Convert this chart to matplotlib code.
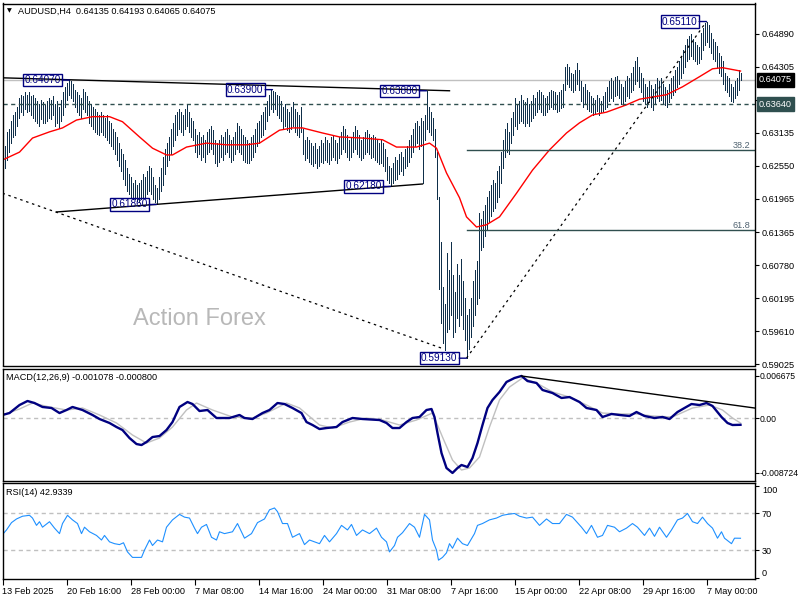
import matplotlib
matplotlib.use('Agg')
import matplotlib.pyplot as plt
import numpy as np

plt.rcParams['font.family'] = ['Liberation Sans', 'DejaVu Sans']
FS = 6.6

# H4 bars, high / low in pips (6300 -> 0.6300)
HI = [6300, 6290, 6315, 6320, 6335, 6345, 6350, 6360, 6375, 6380,
      6378, 6385, 6380, 6385, 6378, 6380, 6375, 6370, 6365, 6372,
      6368, 6362, 6370, 6375, 6372, 6378, 6365, 6370, 6360, 6372,
      6385, 6395, 6402, 6407, 6405, 6400, 6390, 6385, 6380, 6375,
      6392, 6385, 6378, 6370, 6365, 6360, 6355, 6350, 6345, 6350,
      6345, 6340, 6345, 6335, 6330, 6320, 6315, 6305, 6295, 6285,
      6275, 6265, 6250, 6240, 6235, 6225, 6230, 6220, 6225, 6230,
      6240, 6235, 6245, 6255, 6250, 6235, 6220, 6215, 6235, 6250,
      6270, 6285, 6295, 6305, 6320, 6330, 6345, 6350, 6355, 6350,
      6345, 6355, 6364, 6350, 6340, 6335, 6320, 6310, 6315, 6305,
      6310, 6300, 6315, 6320, 6325, 6318, 6300, 6295, 6300, 6310,
      6305, 6315, 6320, 6310, 6300, 6305, 6315, 6330, 6325, 6320,
      6310, 6305, 6300, 6295, 6305, 6310, 6320, 6330, 6335, 6345,
      6350, 6360, 6370, 6380, 6390, 6388, 6385, 6380, 6378, 6370,
      6360, 6365, 6355, 6350, 6360, 6368, 6355, 6350, 6345, 6360,
      6320, 6300, 6305, 6300, 6295, 6290, 6295, 6285, 6290, 6300,
      6295, 6305, 6300, 6295, 6305, 6310, 6300, 6295, 6305, 6315,
      6325, 6320, 6310, 6300, 6305, 6315, 6325, 6318, 6310, 6300,
      6305, 6315, 6318, 6312, 6305, 6310, 6305, 6300, 6295, 6300,
      6295, 6285, 6270, 6255, 6250, 6260, 6270, 6265, 6275, 6280,
      6270, 6285, 6290, 6300, 6310, 6320, 6330, 6335, 6325, 6340,
      6335, 6345, 6388, 6360, 6350, 6340, 6320, 6280, 6200, 6120,
      6040, 6010, 6100, 6070, 6120, 6060, 6030, 6080, 6060, 6090,
      6050, 6020, 5990, 6000, 6020, 6050, 6070, 6085, 6170, 6160,
      6175, 6185, 6200, 6210, 6220, 6230, 6225, 6245, 6255, 6280,
      6300, 6320, 6330, 6315, 6340, 6350, 6375, 6365, 6370, 6380,
      6372, 6368, 6375, 6365, 6370, 6380, 6375, 6385, 6390, 6385,
      6380, 6375, 6378, 6385, 6390, 6388, 6385, 6380, 6385, 6390,
      6400, 6430, 6435, 6430, 6420, 6418, 6425, 6437, 6425, 6405,
      6395, 6400, 6390, 6385, 6378, 6375, 6372, 6380, 6375, 6370,
      6378, 6385, 6395, 6405, 6410, 6405, 6412, 6415, 6408, 6400,
      6395, 6405, 6415, 6410, 6420, 6430, 6440, 6448, 6430, 6420,
      6410, 6400, 6395, 6405, 6398, 6392, 6400, 6410, 6405, 6410,
      6400, 6395, 6390, 6400, 6410, 6415, 6425, 6430, 6440, 6450,
      6460, 6470, 6480, 6485, 6488, 6480, 6475, 6470, 6465, 6490,
      6500, 6508, 6511, 6505, 6490, 6480, 6475, 6468, 6455, 6450,
      6440, 6420, 6415, 6410, 6400, 6395, 6405, 6410, 6425, 6419]
LO = [6255, 6250, 6265, 6280, 6295, 6305, 6310, 6325, 6340, 6350,
      6345, 6355, 6350, 6352, 6345, 6340, 6335, 6330, 6325, 6338,
      6330, 6330, 6335, 6340, 6338, 6345, 6325, 6330, 6322, 6335,
      6345, 6360, 6372, 6380, 6375, 6370, 6360, 6350, 6345, 6340,
      6355, 6350, 6345, 6330, 6325, 6320, 6315, 6312, 6310, 6315,
      6310, 6305, 6300, 6295, 6290, 6285, 6275, 6265, 6255, 6245,
      6232, 6220, 6210, 6205, 6200, 6195, 6195, 6192, 6190, 6195,
      6200, 6200, 6205, 6210, 6205, 6195, 6190, 6186, 6195, 6210,
      6220, 6240, 6255, 6265, 6275, 6290, 6300, 6310, 6320, 6315,
      6310, 6320, 6325, 6315, 6305, 6300, 6280, 6270, 6275, 6265,
      6270, 6262, 6275, 6280, 6285, 6275, 6260, 6255, 6262, 6270,
      6265, 6275, 6280, 6270, 6262, 6265, 6275, 6285, 6280, 6275,
      6265, 6262, 6260, 6260, 6265, 6270, 6280, 6290, 6295, 6305,
      6310, 6320, 6335, 6345, 6355, 6350, 6355, 6345, 6340, 6335,
      6320, 6325, 6318, 6315, 6320, 6325, 6315, 6310, 6305, 6315,
      6275, 6265, 6268, 6262, 6258, 6255, 6260, 6250, 6255, 6262,
      6260, 6265, 6262, 6258, 6265, 6270, 6265, 6260, 6268, 6275,
      6285, 6280, 6270, 6265, 6270, 6280, 6285, 6275, 6270, 6265,
      6268, 6275, 6280, 6275, 6268, 6270, 6265, 6262, 6258, 6260,
      6255, 6245, 6230, 6225, 6218, 6225, 6230, 6232, 6240, 6245,
      6238, 6250, 6255, 6262, 6270, 6280, 6290, 6295, 6285, 6290,
      6225, 6300, 6320, 6315, 6310, 6300, 6270, 6195, 6035, 5975,
      5940, 5928, 5960, 5965, 5990, 5950, 5960, 5985, 5970, 5990,
      5965, 5945, 5913, 5930, 5950, 5970, 5990, 6010, 6020, 6105,
      6110, 6130, 6140, 6155, 6165, 6175, 6180, 6190, 6200, 6225,
      6250, 6270, 6280, 6275, 6295, 6310, 6325, 6320, 6330, 6335,
      6330, 6325, 6330, 6325, 6335, 6340, 6345, 6350, 6355, 6350,
      6345, 6345, 6350, 6355, 6360, 6355, 6355, 6350, 6352, 6358,
      6360, 6390, 6400, 6395, 6390, 6385, 6390, 6400, 6390, 6370,
      6360, 6365, 6355, 6352, 6350, 6345, 6348, 6352, 6345, 6350,
      6352, 6355, 6360, 6370, 6375, 6370, 6378, 6380, 6375, 6365,
      6362, 6370, 6378, 6375, 6385, 6390, 6400, 6405, 6395, 6385,
      6370, 6365, 6360, 6368, 6360, 6354, 6365, 6375, 6370, 6372,
      6365, 6362, 6360, 6368, 6375, 6380, 6385, 6395, 6400, 6410,
      6420, 6430, 6440, 6445, 6450, 6445, 6440, 6435, 6438, 6445,
      6460, 6470, 6475, 6465, 6455, 6445, 6440, 6430, 6420, 6415,
      6400, 6390, 6385, 6378, 6370, 6368, 6375, 6380, 6390, 6407]

LAST_OHLC = [0.64135, 0.64193, 0.64065, 0.64075]
SUPPORT = 0.63640

# red moving average (bar index, pips)
MA_IDX = [0, 8.5, 15, 23.5, 30, 37, 45, 53.5, 60, 68.5, 75, 82, 85, 92, 102, 112, 122,
          128.5, 138.5, 145, 150, 160, 168.5, 180, 190, 197, 207, 213.5, 217, 222,
          228.5, 232, 237, 242, 248.5, 257, 265, 273.5, 282, 288.5, 295, 302, 312,
          318.5, 332, 340, 348.5, 355, 360, 369]
MA_VAL = [6265, 6279, 6304, 6315, 6322, 6336, 6342, 6342, 6333, 6306, 6286, 6274, 6274,
          6288, 6295, 6292, 6292, 6295, 6318, 6322, 6322, 6313, 6306, 6304, 6301, 6288,
          6288, 6295, 6286, 6242, 6198, 6164, 6146, 6150, 6164, 6206, 6247, 6283, 6313,
          6331, 6345, 6350, 6363, 6373, 6381, 6395, 6413, 6427, 6429, 6423]

# callout labels (bar index, price)
LBL_IDX = [33.5, 135, 212, 352, 77, 194, 232]
LBL_PRICE = [0.64070, 0.63900, 0.63880, 0.65110, 0.61860, 0.62180, 0.59130]

# trend lines (bar index pairs, price pairs)
TOP_LINE = ([0, 223.5], [0.6411, 0.6388])
BOTTOM_LINE = ([27, 210], [0.61727, 0.62224])
CHANNEL_DOWN = ([0, 221], [0.6206, 0.5929])
CHANNEL_UP = ([232, 352], [0.59130, 0.65110])
FIB_START = 232
FIB_LOW, FIB_HIGH = 0.59130, 0.65110
FIB_RATIOS = [38.2, 61.8]

PRICE_TICKS = [0.64890, 0.64305, 0.63720, 0.63135, 0.62550, 0.61965, 0.61365,
               0.60780, 0.60195, 0.59610, 0.59025]

# MACD (12,26,9)
MACD_IDX = [0, 3.5, 8.5, 12.5, 16, 20, 24.5, 28.5, 32, 35, 40, 45, 48.5, 53.5, 57, 60,
            63.5, 67, 69.5, 72, 75, 78.5, 82, 85, 88.5, 92.5, 95, 98.5, 102.5, 107,
            113.5, 118.5, 121, 125, 130, 133.5, 137.5, 141, 145, 149.5, 152, 155,
            158.5, 162, 167, 170, 175, 180, 188.5, 192, 195, 198.5, 202, 205, 208.5,
            212, 214.5, 216, 217.5, 219.5, 222, 225, 227.5, 229.5, 232.5, 235, 237.5,
            240, 242.5, 245, 248.5, 252, 256, 259.5, 262.5, 267, 270, 275, 279.5,
            283.5, 288.5, 292, 297, 300, 304.5, 308.5, 313.5, 317, 321, 326, 330,
            333.5, 337.5, 341, 344.5, 348.5, 352, 355, 359.5, 362.5, 365, 369]
MACD_VAL = [0.00048, 0.00079, 0.00206, 0.00270, 0.00238, 0.00175, 0.00159, 0.00079,
            0.00127, 0.00175, 0.00127, 0.00048, -0.00016, -0.00079, -0.00143, -0.00191,
            -0.00318, -0.00413, -0.00429, -0.00381, -0.00302, -0.00286, -0.00191,
            -0.00064, 0.00175, 0.00254, 0.00222, 0.00111, 0.00127, 0.0, 0.0, 0.00048,
            0.0, -0.00016, 0.00079, 0.00127, 0.00238, 0.00222, 0.00159, 0.00079,
            -0.00064, -0.00111, -0.00175, -0.00159, -0.00143, -0.00064, 0.0, -0.00016,
            -0.00032, -0.00079, -0.00159, -0.00159, -0.00064, 0.0, 0.00016, 0.00127,
            0.00143, 0.00016, -0.00238, -0.00556, -0.00794, -0.008724, -0.00794,
            -0.00746, -0.00778, -0.00635, -0.00397, -0.00111, 0.00159, 0.00286,
            0.00413, 0.00572, 0.00635, 0.006675, 0.00587, 0.00556, 0.00445, 0.00397,
            0.00318, 0.00333, 0.00254, 0.00159, 0.00127, 0.00016, 0.00064, 0.00048,
            0.00032, 0.00095, 0.00032, 0.0, 0.00016, -0.00016, 0.00095, 0.00159,
            0.00222, 0.00206, 0.00238, 0.00191, 0.00016, -0.00079, -0.00111, -0.001078]
SIG_IDX = [0, 8.5, 15, 23.5, 32, 40, 48.5, 57, 65, 72, 78.5, 85, 92, 97, 105, 115, 125,
           132, 142, 148.5, 158.5, 165, 173.5, 182, 190, 198.5, 207, 215, 220, 225,
           229.5, 233.5, 238.5, 243.5, 248.5, 253.5, 260, 267, 275, 283.5, 292, 300,
           308.5, 317, 325, 335, 345, 353.5, 360, 365, 369]
SIG_VAL = [0.00048, 0.00143, 0.00238, 0.00175, 0.00127, 0.00159, 0.00048, -0.00079,
           -0.00270, -0.00397, -0.00318, -0.00143, 0.00127, 0.00238, 0.00127, 0.00016,
           0.0, 0.00079, 0.00238, 0.00159, -0.00111, -0.00159, -0.00064, 0.0, -0.00032,
           -0.00111, -0.00032, 0.00079, -0.00302, -0.00667, -0.00826, -0.00794,
           -0.00619, -0.00143, 0.00286, 0.00492, 0.00635, 0.00556, 0.00413, 0.00333,
           0.00206, 0.00079, 0.00064, 0.00064, 0.00032, 0.00016, 0.00159, 0.00206,
           0.00127, 0.0, -0.00080]
MACD_LINE = ([259.5, 376], [0.00667, 0.00159])
MACD_TICKS = [0.006675, 0.0, -0.008724]

# RSI (14)
RSI_IDX = [0, 2, 4.5, 7, 10, 13.5, 15, 17, 18.5, 20, 23.5, 26, 28.5, 30, 32.5, 35, 37.5,
           39.5, 41, 43.5, 47, 49.5, 51, 53.5, 56, 58.5, 60.5, 62.5, 65, 69.5, 71, 73.5,
           75, 77.5, 80, 82, 85, 88.5, 91, 93.5, 96, 97.5, 99.5, 102, 104.5, 107, 108.5,
           111, 115, 117.5, 121, 124.5, 127.5, 131, 133.5, 136, 137.5, 140, 142.5, 145,
           148.5, 151, 153.5, 158.5, 161, 163.5, 167, 169.5, 172.5, 174.5, 177, 180,
           183.5, 187, 189.5, 192, 193.5, 196, 197.5, 200, 203.5, 206, 208.5, 211,
           213.5, 215, 217, 218, 220, 222, 223.5, 225, 227.5, 230, 232.5, 236, 237.5,
           240, 243.5, 247, 250, 252.5, 256, 258.5, 262, 265, 268.5, 272, 275, 278.5,
           282, 285, 289.5, 292, 294.5, 297.5, 300, 302.5, 306, 308.5, 312, 315, 317.5,
           321, 323.5, 326, 328.5, 332, 334.5, 337.5, 340, 342.5, 345, 347.5, 350,
           352.5, 355, 357.5, 359.5, 361, 364.5, 366, 369]
RSI_VAL = [47, 52, 60, 64, 67, 68, 65, 57, 61, 55, 61, 54, 48, 59, 68, 63, 59, 48, 55, 50,
           46, 41, 46, 39, 37, 36, 38, 28, 22, 22, 30, 41, 35, 41, 39, 55, 63, 69, 66, 65,
           54, 48, 55, 58, 44, 41, 50, 48, 50, 59, 43, 48, 60, 64, 74, 76, 72, 59, 59, 44,
           48, 36, 41, 37, 46, 39, 48, 57, 52, 58, 46, 52, 48, 54, 44, 39, 28, 35, 44, 49,
           59, 55, 44, 69, 63, 41, 30, 19, 22, 27, 37, 32, 43, 37, 35, 48, 57, 59, 63, 65,
           68, 69, 70, 67, 65, 66, 57, 64, 59, 59, 69, 66, 55, 48, 57, 44, 46, 57, 55, 50,
           54, 59, 55, 46, 54, 45, 55, 44, 52, 63, 65, 70, 61, 59, 66, 59, 54, 43, 50, 43,
           37, 43, 42.93]
RSI_TICKS = [100, 70, 30, 0]

X_TICK_IDX = [0, 32, 64, 96, 128, 160, 192, 224, 256, 288, 320, 352]
X_TICK_LBL = ['13 Feb 2025', '20 Feb 16:00', '28 Feb 00:00', '7 Mar 08:00', '14 Mar 16:00',
              '24 Mar 00:00', '31 Mar 08:00', '7 Apr 16:00', '15 Apr 00:00', '22 Apr 08:00',
              '29 Apr 16:00', '7 May 00:00']

BAR_COLOR = '#0f2f4a'
NAVY = '#000080'
SLATE = '#2f4f4f'
X_MIN, X_MAX = 0.0, 376.25

W, H = 800, 600
fig = plt.figure(figsize=(8, 6), dpi=100, facecolor='white')


def caixa(x0, y0, x1, y1):
    return [x0 / W, 1 - y1 / H, (x1 - x0) / W, (y1 - y0) / H]


ax = fig.add_axes(caixa(2.5, 3.5, 755, 365.5))
ax_macd = fig.add_axes(caixa(2.5, 369, 755, 481))
ax_rsi = fig.add_axes(caixa(2.5, 483, 755, 579))

for a in (ax, ax_macd, ax_rsi):
    a.set_xlim(X_MIN, X_MAX)
    a.yaxis.tick_right()
    a.tick_params(axis='y', length=3, pad=2, labelsize=FS, direction='out')
    for s in a.spines.values():
        s.set_linewidth(1)
        s.set_color('black')

# ---- price panel
idx = np.arange(len(HI))
ax.vlines(idx, np.array(LO) / 1e4, np.array(HI) / 1e4, color=BAR_COLOR, lw=0.72,
          antialiased=False)
ax.plot(MA_IDX, np.array(MA_VAL) / 1e4, color='red', lw=1)
ax.axhline(LAST_OHLC[3], color='#c0c0c0', lw=1, zorder=0)
ax.axhline(SUPPORT, color=SLATE, lw=1, ls=(0, (3, 2.5)))

ax.plot(*TOP_LINE, color='black', lw=1)
ax.plot(*BOTTOM_LINE, color='black', lw=1)
ax.plot(*CHANNEL_DOWN, color='black', lw=0.9, ls=(0, (2, 3)))
ax.plot(*CHANNEL_UP, color='black', lw=0.9, ls=(0, (2, 3)))

for r in FIB_RATIOS:
    nivel = FIB_HIGH - r / 100 * (FIB_HIGH - FIB_LOW)
    ax.plot([FIB_START, X_MAX], [nivel, nivel], color=SLATE, lw=1)
    ax.text(374, nivel, f'{r:.1f}', fontsize=FS, color='#4f6270', ha='right', va='bottom')

for i, p in zip(LBL_IDX, LBL_PRICE):
    ax.annotate(f'{p:.5f}', xy=(i, p), xytext=(-9, 0), textcoords='offset pixels',
                ha='right', va='center', fontsize=FS + 0.6, color=NAVY,
                bbox=dict(boxstyle='square,pad=0.12', fc='none', ec=NAVY, lw=1),
                arrowprops=dict(arrowstyle='-', color=NAVY, lw=1, shrinkA=0, shrinkB=0))

ax.set_ylim(0.5900, 0.6543)
ax.set_xticks([])
ax.set_yticks(PRICE_TICKS)
ax.set_yticklabels([f'{v:.5f}' for v in PRICE_TICKS])

ax.annotate(f'{LAST_OHLC[3]:.5f}', xy=(1, LAST_OHLC[3]), xycoords=('axes fraction', 'data'),
            xytext=(4, 0), textcoords='offset pixels', ha='left', va='center', fontsize=FS,
            color='white', bbox=dict(boxstyle='square,pad=0.25', fc='black', ec='black'),
            zorder=10)
ax.annotate(f'{SUPPORT:.5f}', xy=(1, SUPPORT), xycoords=('axes fraction', 'data'),
            xytext=(4, 0), textcoords='offset pixels', ha='left', va='center', fontsize=FS,
            color='white', bbox=dict(boxstyle='square,pad=0.25', fc=SLATE, ec=SLATE),
            zorder=10)

ax.text(0.006, 0.979, '\u25bc', transform=ax.transAxes, fontsize=4.5, va='center',
        family='DejaVu Sans')
ax.text(0.02, 0.979, 'AUDUSD,H4  ' + ' '.join(f'{v:.5f}' for v in LAST_OHLC),
        transform=ax.transAxes, fontsize=FS, va='center')
ax.text(0.262, 0.128, 'Action Forex', transform=ax.transAxes, fontsize=17,
        color='#b8b8b8', ha='center', va='center')

# ---- MACD panel
ax_macd.axhline(0, color='#c0c0c0', lw=1, ls=(0, (3, 2.5)))
ax_macd.plot(SIG_IDX, SIG_VAL, color='#c0c0c0', lw=1)
ax_macd.plot(MACD_IDX, MACD_VAL, color=NAVY, lw=1.7)
ax_macd.plot(*MACD_LINE, color='black', lw=1)
ax_macd.set_ylim(-0.0100, 0.00778)
ax_macd.set_xticks([])
ax_macd.set_yticks(MACD_TICKS)
ax_macd.set_yticklabels(['0.006675', '0.00', '-0.008724'])
ax_macd.tick_params(axis='y', pad=0.5, labelsize=FS - 0.4)
ax_macd.text(0.005, 0.92, 'MACD(12,26,9) %.6f %.6f' % (MACD_VAL[-1], SIG_VAL[-1]),
             transform=ax_macd.transAxes, fontsize=FS, va='center')

# ---- RSI panel
ax_rsi.axhline(70, color='#c0c0c0', lw=1, ls=(0, (3, 2.5)))
ax_rsi.axhline(30, color='#c0c0c0', lw=1, ls=(0, (3, 2.5)))
ax_rsi.plot(RSI_IDX, RSI_VAL, color='#1e90ff', lw=0.8)
ax_rsi.set_ylim(-1.6, 103.3)
ax_rsi.set_yticks(RSI_TICKS)
ax_rsi.set_yticklabels([str(v) for v in RSI_TICKS])
for lbl in ax_rsi.get_yticklabels():
    if lbl.get_text() == '100':
        lbl.set_va('top')
    elif lbl.get_text() == '0':
        lbl.set_va('bottom')
ax_rsi.text(0.005, 0.906, 'RSI(14) %.4f' % 42.9339, transform=ax_rsi.transAxes,
            fontsize=FS, va='center')
ax_rsi.set_xticks(X_TICK_IDX)
ax_rsi.set_xticklabels(X_TICK_LBL, ha='left')
ax_rsi.tick_params(axis='x', length=4, pad=2, labelsize=FS, direction='out')

fig.savefig('out.png', dpi=100, facecolor='white')
